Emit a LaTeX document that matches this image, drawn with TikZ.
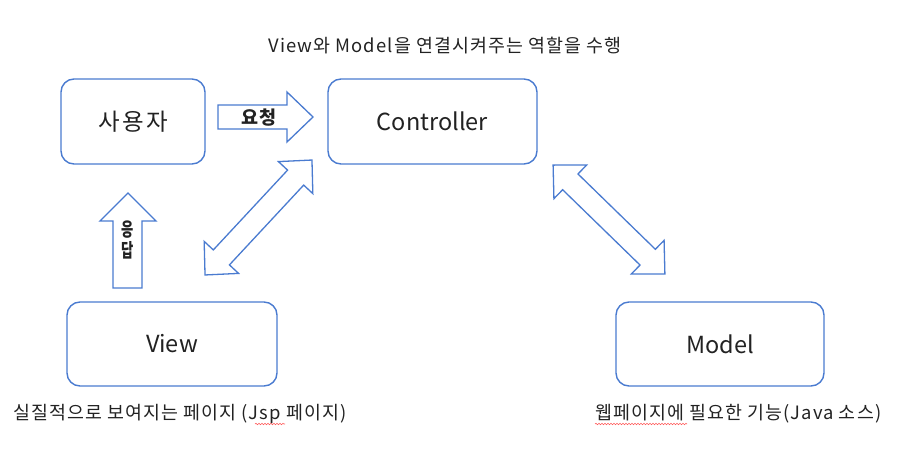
\documentclass[tikz,border=0pt]{standalone}
\usepackage{fontspec}
\setmainfont{Noto Sans CJK KR}
\newfontfamily\spaced[LetterSpace=6]{Noto Sans CJK KR}
\newfontfamily\wide[LetterSpace=10]{Noto Sans CJK KR}
\usetikzlibrary{decorations.pathmorphing}
\definecolor{boxblue}{HTML}{4A7BD0}
\definecolor{txt}{HTML}{222222}
\begin{document}
\begin{tikzpicture}[x=1pt,y=-1pt,
  box/.style={draw=boxblue, line width=1.4pt, rounded corners=13pt, text=txt, font=\fontsize{23.5}{26}\selectfont, inner sep=0pt},
  blockarrow/.style={draw=boxblue, line width=1.3pt, fill=white, line join=miter},
  lbl/.style={text=txt, font=\spaced\fontsize{18.4}{20}\selectfont, inner sep=0pt},
  vchar/.style={text=txt, font=\fontsize{19}{19}\selectfont\bfseries, inner sep=0pt, transform shape, xscale=0.7},
  squig/.style={draw=red!65, line width=0.6pt, decorate, decoration={snake, amplitude=0.7pt, segment length=3pt}}]
\useasboundingbox (0,0) rectangle (899,455);

% boxes
\node[box, minimum width=144pt, minimum height=85pt] (user) at (133,121.5) {\wide 사용자};
\node[box, minimum width=209pt, minimum height=85pt] (ctrl) at (432.5,121.5) {Controller};
\node[box, minimum width=210pt, minimum height=84pt] (view) at (172,344) {View};
\node[box, minimum width=208pt, minimum height=84pt] (model) at (720,344) {Model};

% request arrow
\draw[blockarrow] (218,105) -- (287,105) -- (287,92) -- (313,117) -- (287,142) -- (287,129) -- (218,129) -- cycle;
\node[text=txt, font=\wide\fontsize{18.5}{19}\selectfont\bfseries, inner sep=0pt] (req) at (259,118) {요청};

% response arrow
\draw[blockarrow] (113,288) -- (113,221) -- (100,221) -- (128,193) -- (156,221) -- (142,221) -- (142,288) -- cycle;
\node[vchar] (resp1) at (128,230) {응};
\node[vchar] (resp2) at (128,250) {답};

% view <-> controller
\begin{scope}[shift={(258.5,217.5)}, x={(0.6812pt,0.7321pt)}, y={(0.7321pt,-0.6812pt)}]
\draw[blockarrow] (78.5,0) -- (54.5,23.5) -- (54.5,11) -- (-54.5,11) -- (-54.5,23.5) -- (-78.5,0) -- (-54.5,-23.5) -- (-54.5,-11) -- (54.5,-11) -- (54.5,-23.5) -- cycle;
\end{scope}

% controller <-> model
\begin{scope}[shift={(609,219.5)}, x={(0.7166pt,-0.6974pt)}, y={(-0.6974pt,-0.7166pt)}]
\draw[blockarrow] (78,0) -- (54,23.5) -- (54,11) -- (-54,11) -- (-54,23.5) -- (-78,0) -- (-54,-23.5) -- (-54,-11) -- (54,-11) -- (54,-23.5) -- cycle;
\end{scope}

% labels
\node[lbl] (top) at (445,46) {View와 Model을 연결시켜주는 역할을 수행};
\node[lbl, anchor=west] (vdesc) at (13,414) {실질적으로 보여지는 페이지 (Jsp 페이지)};
\node[lbl, anchor=west] (mdesc) at (595,414) {웹페이지에 필요한 기능(Java 소스)};

% spell-check underlines
\coordinate (s1a) at (595,424);
\coordinate (s1b) at (687,424);
\coordinate (s2a) at (255,424);
\coordinate (s2b) at (285,424);
\draw[squig] (s1a) -- (s1b);
\draw[squig] (s2a) -- (s2b);
\end{tikzpicture}
\end{document}
